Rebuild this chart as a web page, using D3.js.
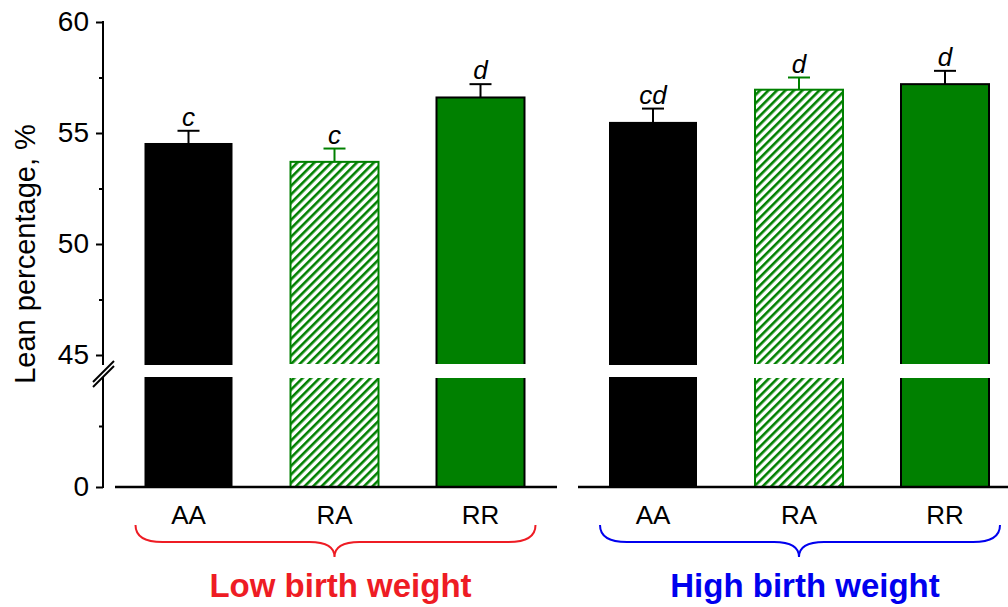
<!DOCTYPE html>
<html><head><meta charset="utf-8">
<script src="https://cdn.jsdelivr.net/npm/d3@7"></script>
<style>body{margin:0;background:#fff;} svg{display:block;font-family:"Liberation Sans",Arial,sans-serif;}</style>
</head><body><svg id="c" width="1008" height="607"></svg>
<script>
const groups = ["Low birth weight", "High birth weight"];
const groupColors = ["#ee1c24", "#0000ee"];
const genotypes = ["AA", "RA", "RR"];
const means = [[54.55, 53.7, 56.6], [55.5, 56.95, 57.2]];
const errors = [[0.55, 0.6, 0.6], [0.6, 0.55, 0.6]];
const letters = [["c", "c", "d"], ["cd", "d", "d"]];
const fills = ["#000000", "hatch", "#008000"];
const strokes = ["#000000", "#008000", "#000000"];
const majorTicks = [45, 50, 55, 60];
const minorTicks = [47.5, 52.5, 57.5];

const svg = d3.select("#c");
const defs = svg.append("defs");
const pat = defs.append("pattern").attr("id","hatch").attr("patternUnits","userSpaceOnUse")
  .attr("width",6).attr("height",6).attr("patternTransform","rotate(45)");
pat.append("rect").attr("width",6).attr("height",6).attr("fill","#fff");
pat.append("rect").attr("width",2.6).attr("height",6).attr("fill","#008000");

const yTop = d3.scaleLinear().domain([45, 60]).range([355, 22]);
const yBot = d3.scaleLinear().domain([0, 45]).range([487, 365]);
const breakTop = 365, breakBot = 377;
const gx = d3.scalePoint().domain(groups).range([334.5, 799]);
const ix = d3.scalePoint().domain(genotypes).range([-146, 146]);
const bw = 88;
const axisX = 103;

groups.forEach((g, gi) => {
  genotypes.forEach((t, ti) => {
    const cx = gx(g) + ix(t);
    const v = means[gi][ti], e = errors[gi][ti];
    const fill = fills[ti] === "hatch" ? "url(#hatch)" : fills[ti];
    const sw = ti === 0 ? 0 : 2;
    svg.append("rect").attr("x", cx - bw/2).attr("y", yTop(v)).attr("width", bw)
      .attr("height", breakTop - yTop(v)).attr("fill", fill)
      .attr("stroke", strokes[ti]).attr("stroke-width", sw);
    svg.append("rect").attr("x", cx - bw/2).attr("y", breakBot).attr("width", bw)
      .attr("height", yBot(0) - breakBot).attr("fill", fill)
      .attr("stroke", strokes[ti]).attr("stroke-width", sw);
    if (sw) {
      svg.append("rect").attr("x", cx - bw/2 - 2).attr("y", breakTop - 1).attr("width", bw + 4)
        .attr("height", breakBot - breakTop + 2).attr("fill", "#fff");
    }
    svg.append("line").attr("x1", cx).attr("x2", cx).attr("y1", yTop(v)).attr("y2", yTop(v + e))
      .attr("stroke", strokes[ti]).attr("stroke-width", 2);
    svg.append("line").attr("x1", cx - 11).attr("x2", cx + 11).attr("y1", yTop(v + e)).attr("y2", yTop(v + e))
      .attr("stroke", strokes[ti]).attr("stroke-width", 2);
    svg.append("text").attr("x", cx).attr("y", yTop(v + e) - 5).attr("text-anchor", "middle")
      .attr("font-size", 26).attr("font-style", "italic").text(letters[gi][ti]);
    svg.append("text").attr("x", cx).attr("y", 524).attr("text-anchor", "middle")
      .attr("font-size", 26).text(t);
  });
});

svg.append("line").attr("x1", 115).attr("x2", 557).attr("y1", 487).attr("y2", 487).attr("stroke", "#000").attr("stroke-width", 2.5);
svg.append("line").attr("x1", 578).attr("x2", 1008).attr("y1", 487).attr("y2", 487).attr("stroke", "#000").attr("stroke-width", 2.5);

function styleAxis(g) {
  g.select(".domain").remove();
  g.selectAll(".tick line").attr("stroke-width",2);
  g.selectAll(".tick text").attr("font-size",28).attr("font-family","Liberation Sans, Arial, sans-serif").attr("fill","#000");
}
const gTop = svg.append("g").attr("transform", `translate(${axisX},0)`)
  .call(d3.axisLeft(yTop).tickValues(majorTicks).tickSize(7).tickPadding(7).tickFormat(d3.format("d")));
styleAxis(gTop);
gTop.append("line").attr("x1",0).attr("x2",0).attr("y1",21).attr("y2",breakTop).attr("stroke","#000").attr("stroke-width",2);
const gTopM = svg.append("g").attr("transform", `translate(${axisX},0)`)
  .call(d3.axisLeft(yTop).tickValues(minorTicks).tickSize(4).tickFormat(""));
styleAxis(gTopM);

const gBot = svg.append("g").attr("transform", `translate(${axisX},0)`)
  .call(d3.axisLeft(yBot).tickValues([0]).tickSize(7).tickPadding(7));
styleAxis(gBot);
gBot.append("line").attr("x1",0).attr("x2",0).attr("y1",breakBot).attr("y2",488).attr("stroke","#000").attr("stroke-width",2);
const gBotM = svg.append("g").attr("transform", `translate(${axisX},0)`)
  .call(d3.axisLeft(yBot).tickValues([22.5]).tickSize(4).tickFormat(""));
styleAxis(gBotM);

[[93,382,114,361],[93,387,114,366]].forEach(d => {
  svg.append("line").attr("x1",d[0]).attr("y1",d[1]).attr("x2",d[2]).attr("y2",d[3]).attr("stroke","#000").attr("stroke-width",2);
});

svg.append("text").attr("transform","translate(35,254) rotate(-90)").attr("text-anchor","middle")
  .attr("font-size",29).text("Lean percentage, %");

groups.forEach((g, gi) => {
  const c = gx(g);
  const x0 = c - 199, x1 = c + 201;
  const top = 525, mid = 542, tip = 557;
  const p = d3.path();
  p.moveTo(x0, top);
  p.quadraticCurveTo(x0, mid, x0 + 27, mid);
  p.lineTo(c - 25, mid);
  p.quadraticCurveTo(c, mid, c, tip);
  p.quadraticCurveTo(c, mid, c + 25, mid);
  p.lineTo(x1 - 27, mid);
  p.quadraticCurveTo(x1, mid, x1, top);
  svg.append("path").attr("d", p.toString()).attr("fill","none").attr("stroke", groupColors[gi]).attr("stroke-width", 2);
  svg.append("text").attr("x", c + 6).attr("y", 597).attr("text-anchor","middle")
    .attr("font-size", 33).attr("font-weight","bold").attr("fill", groupColors[gi]).text(g);
});
</script></body></html>
